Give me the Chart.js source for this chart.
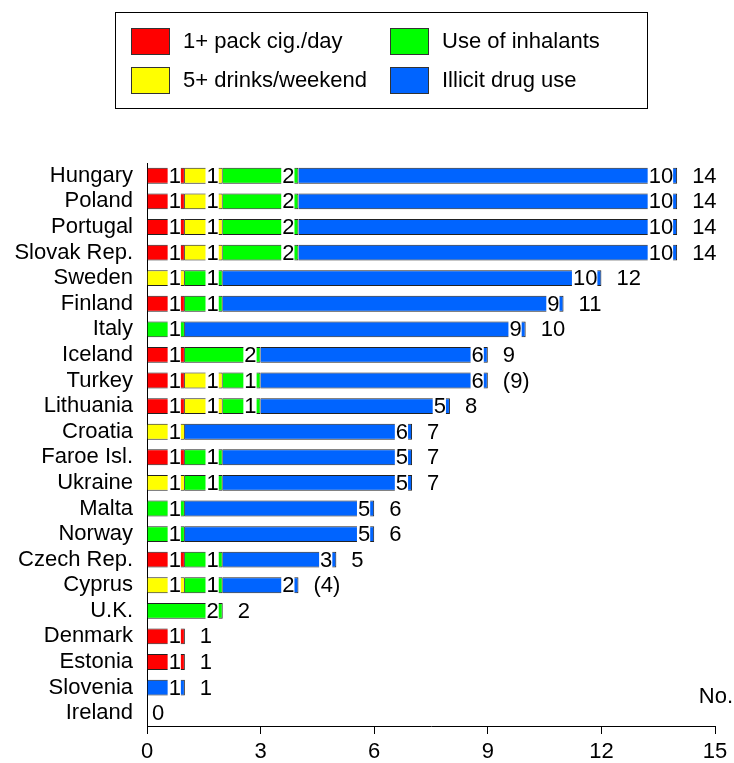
<!DOCTYPE html>
<html>
<head>
<meta charset="utf-8">
<script src="https://cdn.jsdelivr.net/npm/chart.js@4.4.1/dist/chart.umd.min.js"></script>
<style>
  body { margin: 0; background: #fff; }
  canvas { display: block; }
</style>
</head>
<body>
<canvas id="chart" width="734" height="763"></canvas>
<script>
const countries = ['Hungary', 'Poland', 'Portugal', 'Slovak Rep.', 'Sweden', 'Finland', 'Italy', 'Iceland',
    'Turkey', 'Lithuania', 'Croatia', 'Faroe Isl.', 'Ukraine', 'Malta', 'Norway', 'Czech Rep.', 'Cyprus',
    'U.K.', 'Denmark', 'Estonia', 'Slovenia', 'Ireland'];
const cigarettes = [1, 1, 1, 1, 0, 1, 0, 1, 1, 1, 0, 1, 0, 0, 0, 1, 0, 0, 1, 1, 0, 0];
const drinks     = [1, 1, 1, 1, 1, 0, 0, 0, 1, 1, 1, 0, 1, 0, 0, 0, 1, 0, 0, 0, 0, 0];
const inhalants  = [2, 2, 2, 2, 1, 1, 1, 2, 1, 1, 0, 1, 1, 1, 1, 1, 1, 2, 0, 0, 0, 0];
const drugs      = [10, 10, 10, 10, 10, 9, 9, 6, 6, 5, 6, 5, 5, 5, 5, 3, 2, 0, 0, 0, 1, 0];
// totals shown in brackets
const bracketed = ['Turkey', 'Cyprus'];
const xTicks = [0, 3, 6, 9, 12, 15];

const FONT = '22px "Liberation Sans", Arial, sans-serif';
Chart.defaults.font.family = '"Liberation Sans", Arial, sans-serif';
Chart.defaults.font.size = 22;
Chart.defaults.color = '#000';

function series(label, values, color) {
    return {
        label: label,
        data: values.map(v => v || null),
        backgroundColor: color,
        borderColor: '#222',
        borderWidth: { top: 1, bottom: 1, right: 1, left: 0 },
        borderSkipped: false,
        categoryPercentage: 1,
        barPercentage: 0.62
    };
}

const labelPlugin = {
    id: 'labelPlugin',
    afterDatasetsDraw(chart) {
        const ctx = chart.ctx;
        ctx.save();
        ctx.font = FONT;
        ctx.textBaseline = 'middle';
        chart.data.datasets.forEach((ds, i) => {
            chart.getDatasetMeta(i).data.forEach((bar, j) => {
                const v = ds.data[j];
                if (!v) return;
                const txt = String(v);
                const w = ctx.measureText(txt).width;
                const right = bar.x - 4;
                ctx.fillStyle = '#fff';
                ctx.fillRect(right - w - 1, bar.y - bar.height / 2 - 1, w + 1, bar.height + 2);
                ctx.fillStyle = '#000';
                ctx.textAlign = 'right';
                ctx.fillText(txt, right, bar.y + 1);
            });
        });
        const xs = chart.scales.x, ys = chart.scales.y;
        ctx.textAlign = 'left';
        countries.forEach((c, j) => {
            const total = cigarettes[j] + drinks[j] + inhalants[j] + drugs[j];
            const txt = bracketed.includes(c) ? '(' + total + ')' : String(total);
            const gap = total ? 15 : 5;
            ctx.fillText(txt, xs.getPixelForValue(total) + gap, ys.getPixelForValue(j) + 1);
        });
        ctx.textAlign = 'right';
        ctx.fillText('No.', 733, 697);
        ctx.restore();
    },
    afterDraw(chart) {
        // boxed legend, two columns
        const ctx = chart.ctx;
        const ds = chart.data.datasets;
        ctx.save();
        ctx.strokeStyle = '#000';
        ctx.lineWidth = 1;
        ctx.strokeRect(115.5, 12.5, 532, 96);
        ctx.font = FONT;
        ctx.textBaseline = 'middle';
        ctx.textAlign = 'left';
        const pos = [[131, 28], [131, 67], [390, 28], [390, 67]];
        ds.forEach((d, i) => {
            const [x, y] = pos[i];
            ctx.fillStyle = d.backgroundColor;
            ctx.fillRect(x, y, 38, 26);
            ctx.strokeStyle = '#333';
            ctx.strokeRect(x + 0.5, y + 0.5, 38, 26);
            ctx.fillStyle = '#000';
            ctx.fillText(d.label, x + 52, y + 14);
        });
        ctx.restore();
    }
};

new Chart(document.getElementById('chart'), {
    type: 'bar',
    data: {
        labels: countries,
        datasets: [
            series('1+ pack cig./day', cigarettes, '#ff0000'),
            series('5+ drinks/weekend', drinks, '#ffff00'),
            series('Use of inhalants', inhalants, '#00ff00'),
            series('Illicit drug use', drugs, '#0064ff')
        ]
    },
    options: {
        indexAxis: 'y',
        responsive: false,
        animation: false,
        layout: { padding: { top: 163, right: 19, left: 0, bottom: 0 } },
        plugins: {
            legend: { display: false },
            tooltip: { enabled: false }
        },
        scales: {
            x: {
                stacked: true,
                min: 0,
                max: 15,
                afterBuildTicks: s => { s.ticks = xTicks.map(v => ({ value: v })); },
                afterFit: s => { s.height = 37; },
                grid: { drawOnChartArea: false, color: '#000', tickLength: 8 },
                border: { display: true, color: '#000', width: 1 },
                ticks: { padding: 5, font: { size: 22 }, color: '#000' }
            },
            y: {
                stacked: true,
                afterFit: s => { s.width = 147; },
                grid: { display: false },
                border: { display: true, color: '#000', width: 1 },
                ticks: { autoSkip: false, padding: 6, font: { size: 22 }, color: '#000' }
            }
        }
    },
    plugins: [labelPlugin]
});
</script>
</body>
</html>
